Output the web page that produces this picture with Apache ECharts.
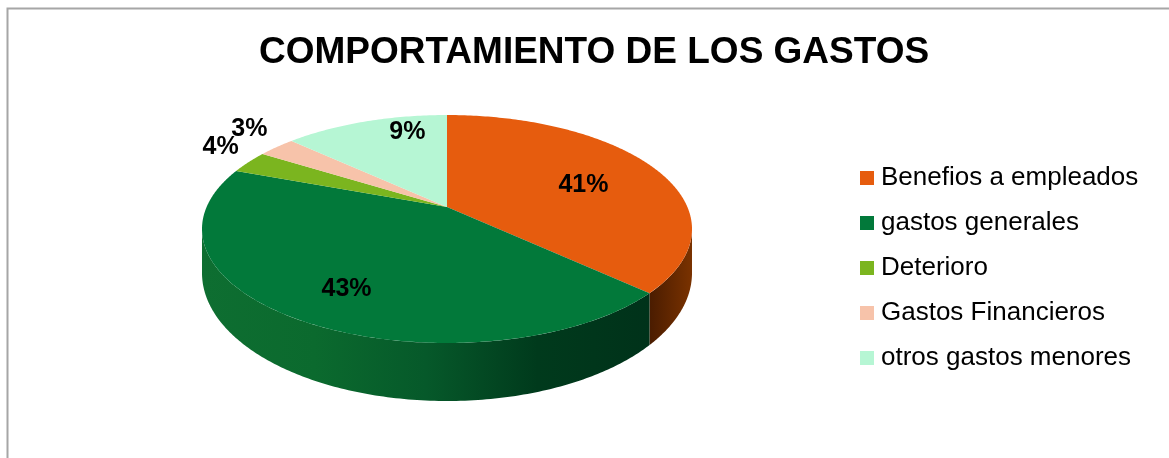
<!DOCTYPE html>
<html>
<head>
<meta charset="utf-8">
<title>Comportamiento de los gastos</title>
<script src="https://cdn.jsdelivr.net/npm/echarts@6/dist/echarts.min.js"></script>
<style>
  html, body { margin: 0; padding: 0; background: #fff; }
  #chart { width: 1169px; height: 458px; }
</style>
</head>
<body>
<div id="chart"></div>
<script>
const categories = ['Benefios a empleados', 'gastos generales', 'Deterioro', 'Gastos Financieros', 'otros gastos menores'];
const values = [41, 43, 4, 3, 9];
const topColors = ['#E65C0E', '#02793A', '#7BB51F', '#F7C3AA', '#B6F6D4'];
const sideColors = [
    ['#4a1c00', '#7a3200'],
    ['#0e6e31', '#0b6a2e', '#06592a', '#003a1c', '#00321a'],
    ['#4e7a12', '#4e7a12'],
    ['#b88a74', '#b88a74'],
    ['#7fb597', '#7fb597']
];

const total = values.reduce((s, v) => s + v, 0);
const starts = [];
let acc = 0;
values.forEach(v => { starts.push(acc / total * Math.PI * 2); acc += v; });

// tilted pie: rim ellipse, pivot above its centre (perspective look)
const cx = 447, cy = 229, rx = 245, ry = 114, py = 207;
const flat = 0.27;              // how flat the slice angles are drawn
const aRight = Math.atan2(rx, -(cy - py) / flat);
const aLeft = Math.PI * 2 - aRight;

function rim(a) {
    const dx = Math.sin(a), dy = -flat * Math.cos(a);
    const o = py - cy;
    const A = (dx / rx) ** 2 + (dy / ry) ** 2;
    const B = 2 * dy * o / (ry * ry);
    const C = (o / ry) ** 2 - 1;
    const t = (-B + Math.sqrt(B * B - 4 * A * C)) / (2 * A);
    return [cx + dx * t, py + dy * t];
}

function depth(p) {
    const s = Math.max(0, (p[1] - cy) / ry);
    return 44 + 14 * s;
}

function arc(a1, a2) {
    const n = Math.max(2, Math.ceil((a2 - a1) / (Math.PI / 360)));
    const pts = [];
    for (let k = 0; k <= n; k++) pts.push(rim(a1 + (a2 - a1) * k / n));
    return pts;
}

function renderSlice(params, api) {
    const i = params.seriesIndex;
    const a1 = starts[i];
    const a2 = a1 + api.value(0) / total * Math.PI * 2;
    const children = [];

    const s1 = Math.max(a1, aRight), s2 = Math.min(a2, aLeft);
    if (s1 < s2) {
        const upper = arc(s1, s2);
        const lower = upper.map(p => [p[0], p[1] + depth(p)]).reverse();
        const stops = sideColors[i].map((c, k, arr) => ({ offset: k / (arr.length - 1), color: c }));
        children.push({
            type: 'polygon',
            shape: { points: upper.concat(lower) },
            style: { fill: new echarts.graphic.LinearGradient(0, 0, 1, 0, stops) }
        });
    }

    children.push({
        type: 'polygon',
        shape: { points: [[cx, py]].concat(arc(a1, a2)) },
        style: { fill: topColors[i] }
    });

    const mid = (a1 + a2) / 2;
    const share = api.value(0) / total;
    let lx, ly;
    if (share >= 0.05) {
        const c = Math.cos(mid);
        const reach = c > 0 ? py - (cy - ry) : (cy + ry) - py;
        lx = cx + 0.58 * rx * Math.sin(mid);
        ly = py - 0.85 * reach * c;
    } else {
        const p = rim(mid);
        const len = Math.hypot(p[0] - cx, p[1] - py);
        lx = p[0] + 28 * (p[0] - cx) / len;
        ly = p[1] + 28 * (p[1] - py) / len - 9;
    }
    children.push({
        type: 'text',
        style: {
            text: Math.round(share * 100) + '%',
            x: lx, y: ly,
            align: 'center', verticalAlign: 'middle',
            font: 'bold 25px Arial, "Liberation Sans", sans-serif',
            fill: '#000'
        }
    });

    return { type: 'group', children: children };
}

const chart = echarts.init(document.getElementById('chart'));

chart.setOption({
    animation: false,
    title: {
        text: 'COMPORTAMIENTO DE LOS GASTOS',
        left: 254,
        top: 29,
        textStyle: { fontSize: 37, fontWeight: 'bold', fontFamily: 'Arial, "Liberation Sans", sans-serif', color: '#000' }
    },
    legend: {
        orient: 'vertical',
        left: 860,
        top: 165,
        padding: 0,
        icon: 'rect',
        itemWidth: 14,
        itemHeight: 14,
        itemGap: 19,
        data: categories,
        textStyle: { fontSize: 26, lineHeight: 26, fontFamily: 'Arial, "Liberation Sans", sans-serif', color: '#000', padding: [0, 0, 0, 2] }
    },
    graphic: [{
        type: 'rect',
        left: 5,
        top: 6,
        shape: { width: 1200, height: 500 },
        style: { fill: 'none', stroke: '#a6a6a6', lineWidth: 2 }
    }],
    series: categories.map((name, i) => ({
        type: 'custom',
        name: name,
        coordinateSystem: 'none',
        itemStyle: { color: topColors[i] },
        renderItem: renderSlice,
        data: [values[i]]
    }))
});
</script>
</body>
</html>
